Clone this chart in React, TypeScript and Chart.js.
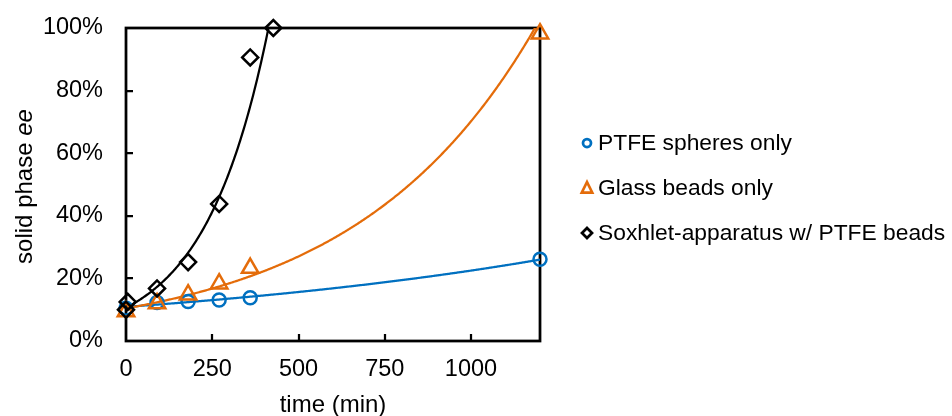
import React, { useEffect, useRef } from 'react';
import { Chart, registerables } from 'chart.js';

Chart.register(...registerables);

// ---- data ----
const PTFE_X = [0, 90, 180, 270, 360, 1200];
const PTFE_Y = [10.5, 12.3, 12.6, 13.1, 13.8, 26.1];
const GLASS_X = [0, 90, 180, 270, 360, 1200];
const GLASS_Y = [9.4, 12.0, 14.8, 18.3, 23.3, 98.2];
const SOX_X = [0, 5, 90, 180, 270, 360, 427];
const SOX_Y = [10, 12.5, 16.8, 25.2, 43.8, 90.6, 100];
const SERIES_NAMES = ['PTFE spheres only', 'Glass beads only', 'Soxhlet-apparatus w/ PTFE beads'];
const SERIES_COLORS = ['#0070C0', '#E46C0A', '#000000'];
const SERIES_MARKERS = ['circle', 'triangle', 'rectRot'];
const X_TICKS = [0, 250, 500, 750, 1000];
const Y_TICKS = [0, 20, 40, 60, 80, 100];
const X_TITLE = 'time (min)';
const Y_TITLE_MAIN = 'solid phase ';
const Y_TITLE_ITALIC = 'ee';

const FONT = '"Liberation Sans", Arial, sans-serif';

function toPoints(xs: number[], ys: number[]) {
  return xs.map((x, i) => ({ x, y: ys[i] }));
}

// Exponential trendline (least squares on ln y), as a spreadsheet does
function expFit(pts: { x: number; y: number }[]) {
  const n = pts.length;
  let sx = 0, sy = 0;
  pts.forEach((p) => { sx += p.x; sy += Math.log(p.y); });
  const mx = sx / n, my = sy / n;
  let sxy = 0, sxx = 0;
  pts.forEach((p) => { sxy += (p.x - mx) * (Math.log(p.y) - my); sxx += (p.x - mx) * (p.x - mx); });
  const b = sxy / sxx;
  const a = Math.exp(my - b * mx);
  return { a, b };
}

const framePlugin = {
  id: 'frameAndTrend',
  beforeDatasetsDraw(chart: any) {
    const { ctx, chartArea: ca, scales } = chart;
    const xs = scales.x, ys = scales.y;
    ctx.save();
    // frame
    ctx.strokeStyle = '#000';
    ctx.lineWidth = 2.75;
    ctx.strokeRect(ca.left, ca.top, ca.right - ca.left, ca.bottom - ca.top);
    // inner tick marks
    ctx.lineWidth = 2.25;
    ctx.beginPath();
    Y_TICKS.forEach((v) => {
      if (v === Y_TICKS[0] || v === Y_TICKS[Y_TICKS.length - 1]) return;
      const py = Math.round(ys.getPixelForValue(v));
      ctx.moveTo(ca.left, py);
      ctx.lineTo(ca.left + 7, py);
    });
    X_TICKS.forEach((v) => {
      if (v === X_TICKS[0]) return;
      const px = Math.round(xs.getPixelForValue(v));
      ctx.moveTo(px, ca.bottom);
      ctx.lineTo(px, ca.bottom - 7);
    });
    ctx.stroke();
    // trendlines
    ctx.beginPath();
    ctx.rect(ca.left, ca.top, ca.right - ca.left, ca.bottom - ca.top);
    ctx.clip();
    chart.data.datasets.forEach((ds: any) => {
      const pts = ds.data as { x: number; y: number }[];
      const { a, b } = expFit(pts);
      const xmin = Math.min(...pts.map((p) => p.x));
      const xmax = Math.max(...pts.map((p) => p.x));
      const p0 = xs.getPixelForValue(xmin), p1 = xs.getPixelForValue(xmax);
      ctx.beginPath();
      for (let px = p0; px <= p1 + 0.001; px += 1) {
        const cx = Math.min(px, p1);
        const v = xs.getValueForPixel(cx);
        const py = ys.getPixelForValue(a * Math.exp(b * v));
        if (px === p0) ctx.moveTo(cx, py); else ctx.lineTo(cx, py);
      }
      ctx.strokeStyle = ds.borderColor;
      ctx.lineWidth = 2.25;
      ctx.lineJoin = 'round';
      ctx.stroke();
    });
    ctx.restore();
  },
  afterDraw(chart: any) {
    const { ctx, chartArea: ca } = chart;
    ctx.save();
    ctx.fillStyle = '#000';
    // x title
    ctx.font = `24px ${FONT}`;
    ctx.textAlign = 'center';
    ctx.textBaseline = 'alphabetic';
    ctx.fillText(X_TITLE, (ca.left + ca.right) / 2, 412);
    // y title (rotated, with italic part)
    ctx.translate(32, (ca.top + ca.bottom) / 2 + 2);
    ctx.rotate(-Math.PI / 2);
    ctx.font = `24px ${FONT}`;
    const w1 = ctx.measureText(Y_TITLE_MAIN).width;
    ctx.font = `italic 24px ${FONT}`;
    const w2 = ctx.measureText(Y_TITLE_ITALIC).width;
    const start = -(w1 + w2) / 2;
    ctx.textAlign = 'left';
    ctx.font = `24px ${FONT}`;
    ctx.fillText(Y_TITLE_MAIN, start, 0);
    ctx.font = `italic 24px ${FONT}`;
    ctx.fillText(Y_TITLE_ITALIC, start + w1, 0);
    ctx.restore();

    // legend
    ctx.save();
    const legendTop = 143, legendGap = 45, mx = 587, tx = 598;
    SERIES_NAMES.forEach((name, i) => {
      const cy = legendTop + i * legendGap;
      ctx.strokeStyle = SERIES_COLORS[i];
      ctx.lineWidth = 2.75;
      ctx.beginPath();
      if (SERIES_MARKERS[i] === 'circle') {
        ctx.arc(mx, cy, 4, 0, Math.PI * 2);
      } else if (SERIES_MARKERS[i] === 'triangle') {
        ctx.moveTo(mx, cy - 6);
        ctx.lineTo(mx + 5.2, cy + 4.5);
        ctx.lineTo(mx - 5.2, cy + 4.5);
        ctx.closePath();
      } else {
        ctx.moveTo(mx, cy - 5);
        ctx.lineTo(mx + 5, cy);
        ctx.lineTo(mx, cy + 5);
        ctx.lineTo(mx - 5, cy);
        ctx.closePath();
      }
      ctx.lineJoin = 'miter';
      ctx.stroke();
      ctx.fillStyle = '#000';
      ctx.font = `22.8px ${FONT}`;
      ctx.textAlign = 'left';
      ctx.textBaseline = 'middle';
      ctx.fillText(name, tx, cy + 1);
    });
    ctx.restore();
  },
};

export default function App() {
  const ref = useRef<HTMLCanvasElement | null>(null);
  useEffect(() => {
    if (!ref.current) return;
    const mk = (i: number, xs: number[], ys: number[], radius: number, order: number) => ({
      label: SERIES_NAMES[i],
      data: toPoints(xs, ys),
      borderColor: SERIES_COLORS[i],
      backgroundColor: 'rgba(0,0,0,0)',
      pointBorderColor: SERIES_COLORS[i],
      pointBackgroundColor: 'rgba(0,0,0,0)',
      pointStyle: SERIES_MARKERS[i],
      pointRadius: radius,
      pointBorderWidth: 2.5,
      showLine: false,
      clip: false,
      order,
    });
    const chart = new Chart(ref.current, {
      type: 'scatter',
      data: {
        datasets: [
          mk(0, PTFE_X, PTFE_Y, 6.5, 3),
          mk(1, GLASS_X, GLASS_Y, 9.5, 2),
          mk(2, SOX_X, SOX_Y, 8, 1),
        ] as any,
      },
      options: {
        responsive: false,
        animation: false,
        devicePixelRatio: 1,
        layout: { padding: { left: 0, top: 28, right: 412, bottom: 0 } },
        plugins: { legend: { display: false }, tooltip: { enabled: false } },
        scales: {
          x: {
            type: 'linear',
            min: 0,
            max: 1200,
            grid: { display: false, drawTicks: false },
            border: { display: false },
            ticks: {
              padding: 14,
              color: '#000',
              font: { family: FONT, size: 23.5 },
              callback: (v: any) => String(v),
            },
            afterBuildTicks: (s: any) => { s.ticks = X_TICKS.map((v) => ({ value: v })); },
            afterFit: (s: any) => { s.height = 75; s.paddingLeft = 0; s.paddingRight = 0; },
          },
          y: {
            type: 'linear',
            min: 0,
            max: 100,
            grid: { display: false, drawTicks: false },
            border: { display: false },
            ticks: {
              padding: 23,
              color: '#000',
              font: { family: FONT, size: 23.5 },
              callback: (v: any) => `${v}%`,
            },
            afterBuildTicks: (s: any) => { s.ticks = Y_TICKS.map((v) => ({ value: v })); },
            afterFit: (s: any) => { s.width = 126; s.paddingTop = 0; s.paddingBottom = 0; },
          },
        },
      },
      plugins: [framePlugin],
    } as any);
    return () => chart.destroy();
  }, []);
  return (
    <div style={{ position: 'absolute', left: 0, top: 0, width: 952, height: 416, background: '#fff' }}>
      <canvas ref={ref} width={952} height={416} style={{ display: 'block' }} />
    </div>
  );
}
